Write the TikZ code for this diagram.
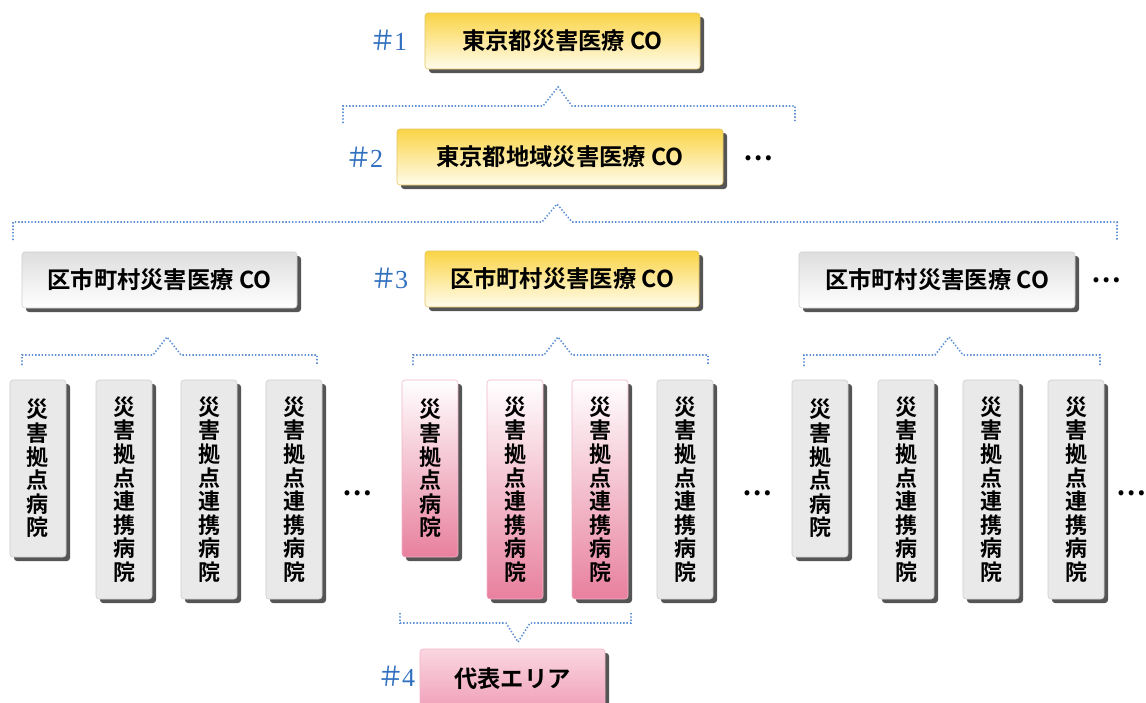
\documentclass[tikz,border=0pt]{standalone}
\usepackage{fontspec}
\usetikzlibrary{shadows}
\newfontfamily\cjk{Noto Sans CJK JP}[BoldFont={* Bold}]
\newfontfamily\hashserif{Liberation Serif}
\definecolor{ytop}{RGB}{250,212,70}
\definecolor{ybot}{RGB}{255,252,236}
\definecolor{yline}{RGB}{228,196,96}
\definecolor{gtop}{RGB}{222,222,222}
\definecolor{gbot}{RGB}{255,255,255}
\definecolor{gline}{RGB}{205,205,205}
\definecolor{hgray}{RGB}{233,233,233}
\definecolor{ptop}{RGB}{255,255,255}
\definecolor{pbot}{RGB}{232,128,158}
\definecolor{pline}{RGB}{242,180,200}
\definecolor{rtop}{RGB}{250,214,224}
\definecolor{rbot}{RGB}{240,160,186}
\definecolor{dotblue}{RGB}{95,145,212}
\definecolor{hashblue}{RGB}{48,112,190}
\definecolor{shadowgray}{RGB}{85,85,85}
\tikzset{
  basebox/.style={rectangle, rounded corners=3pt, inner sep=0pt, outer sep=0pt, anchor=north west, line width=0.6pt,
    drop shadow={shadow xshift=4pt, shadow yshift=-4pt, fill=shadowgray, opacity=1},
    font=\cjk\bfseries\fontsize{23.3}{25}\selectfont},
  yellowbox/.style={basebox, draw=yline, top color=ytop, bottom color=ybot},
  graybox/.style={basebox, draw=gline, top color=gtop, bottom color=gbot},
  hospgray/.style={basebox, draw=gline, fill=hgray, align=center, minimum width=56pt, font=\cjk\bfseries\fontsize{22}{23.6}\selectfont},
  hosppink/.style={basebox, draw=pline, top color=ptop, bottom color=pbot, align=center, minimum width=56pt, font=\cjk\bfseries\fontsize{22}{23.6}\selectfont},
  redbox/.style={basebox, draw=pline, top color=rtop, bottom color=rbot},
  shortbox/.style={minimum height=177pt},
  tallbox/.style={minimum height=219pt},
  hashlabel/.style={text=hashblue, font=\hashserif\fontsize{26}{27}\selectfont, inner sep=0pt},
  dots/.style={font=\cjk\bfseries\fontsize{27}{27}\selectfont, inner sep=0pt},
  bracket/.style={draw=dotblue, line width=1.6pt, dash pattern=on 1.4pt off 1.9pt, line cap=butt}
}
\newcommand{\shortlbl}{災\\害\\拠\\点\\病\\院}
\newcommand{\talllbl}{災\\害\\拠\\点\\連\\携\\病\\院}
\newcommand{\sharpmark}{{\cjk\fontsize{27}{27}\selectfont ＃}\kern-2pt}
\begin{document}
\begin{tikzpicture}[x=1pt,y=-1pt]
\useasboundingbox (0,0) rectangle (1146,702);
% level 1
\node[yellowbox, minimum width=275pt, minimum height=56pt] (co1) at (425,13) {東京都災害医療 CO};
\node[hashlabel] (h1) at (388,40) {\sharpmark1};
% level 2
\node[yellowbox, minimum width=326pt, minimum height=56pt] (co2) at (397,129) {東京都地域災害医療 CO};
\node[hashlabel] (h2) at (364,157) {\sharpmark2};
\node[dots] (e2) at (758,158) {…};
% level 3
\node[graybox, minimum width=275pt, minimum height=56pt] (coL) at (22,252) {区市町村災害医療 CO};
\node[yellowbox, minimum width=274pt, minimum height=56pt] (coM) at (425,251) {区市町村災害医療 CO};
\node[graybox, minimum width=276pt, minimum height=56pt] (coR) at (799,252) {区市町村災害医療 CO};
\node[hashlabel] (h3) at (389,278) {\sharpmark3};
\node[dots] (e3) at (1106,280) {…};
% hospitals left
\node[hospgray, shortbox] (l1) at (10,380) {\shortlbl};
\node[hospgray, tallbox] (l2) at (96,380) {\talllbl};
\node[hospgray, tallbox] (l3) at (181,380) {\talllbl};
\node[hospgray, tallbox] (l4) at (266,380) {\talllbl};
% hospitals middle
\node[hosppink, shortbox] (m1) at (402,380) {\shortlbl};
\node[hosppink, tallbox] (m2) at (487,380) {\talllbl};
\node[hosppink, tallbox] (m3) at (572,380) {\talllbl};
\node[hospgray, tallbox] (m4) at (657,380) {\talllbl};
% hospitals right
\node[hospgray, shortbox] (r1) at (792,380) {\shortlbl};
\node[hospgray, tallbox] (r2) at (878,380) {\talllbl};
\node[hospgray, tallbox] (r3) at (963,380) {\talllbl};
\node[hospgray, tallbox] (r4) at (1048,380) {\talllbl};
\node[dots] (e4) at (357,493) {…};
\node[dots] (e5) at (757,493) {…};
\node[dots] (e6) at (1131,493) {…};
% level 4
\node[redbox, minimum width=185pt, minimum height=60pt] (area) at (420,649) {代表エリア};
\node[hashlabel] (h4) at (396,676) {\sharpmark4};
% brackets
\coordinate (k1) at (558,87);
\draw[bracket] (343,123) -- (343,106) -- (543,106) -- (k1) -- (572,106) -- (795,106) -- (795,123);
\coordinate (k2) at (557,204);
\draw[bracket] (13,240) -- (13,222) -- (542,222) -- (k2) -- (572,222) -- (1117,222) -- (1117,240);
\coordinate (k3) at (167,337);
\draw[bracket] (22,365) -- (22,355) -- (153,355) -- (k3) -- (181,355) -- (317,355) -- (317,365);
\coordinate (k4) at (558,337);
\draw[bracket] (413,365) -- (413,355) -- (544,355) -- (k4) -- (572,355) -- (708,355) -- (708,365);
\coordinate (k5) at (949,337);
\draw[bracket] (804,366) -- (804,355) -- (935,355) -- (k5) -- (963,355) -- (1100,355) -- (1100,366);
\coordinate (k6) at (518,642);
\draw[bracket] (400,613) -- (400,623) -- (506,623) -- (k6) -- (530,623) -- (631,623) -- (631,613);
\end{tikzpicture}
\end{document}
